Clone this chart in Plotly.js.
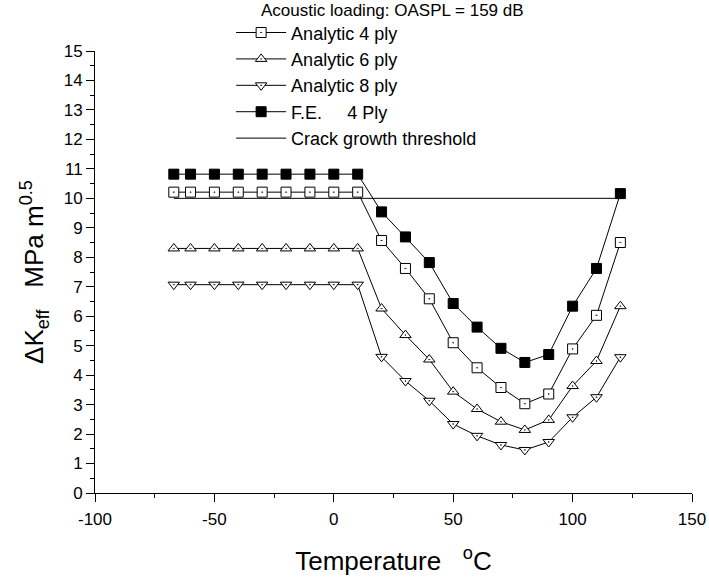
<!DOCTYPE html>
<html>
<head>
<meta charset="utf-8">
<script src="https://cdn.plot.ly/plotly-3.0.1.min.js"></script>
<style>html,body{margin:0;padding:0;background:#fff}#chart{width:709px;height:579px}</style>
</head>
<body>
<div id="chart"></div>
<script>
// Temperature (°C)
var temps = [-67, -60, -50, -40, -30, -20, -10, 0, 10, 20, 30, 40, 50, 60, 70, 80, 90, 100, 110, 120];
// ΔKeff (MPa m^0.5)
var analytic4 = [10.21, 10.21, 10.21, 10.21, 10.21, 10.21, 10.21, 10.21, 10.21, 8.57, 7.62, 6.59, 5.10, 4.25, 3.58, 3.03, 3.36, 4.89, 6.03, 8.50];
var analytic6 = [8.30, 8.30, 8.30, 8.30, 8.30, 8.30, 8.30, 8.30, 8.30, 6.26, 5.36, 4.53, 3.44, 2.85, 2.42, 2.14, 2.48, 3.63, 4.48, 6.34];
var analytic8 = [7.07, 7.07, 7.07, 7.07, 7.07, 7.07, 7.07, 7.07, 7.07, 4.62, 3.80, 3.13, 2.34, 1.94, 1.63, 1.46, 1.73, 2.57, 3.25, 4.61];
var fe4 = [10.82, 10.82, 10.82, 10.82, 10.82, 10.82, 10.82, 10.82, 10.82, 9.54, 8.69, 7.82, 6.43, 5.63, 4.91, 4.43, 4.70, 6.34, 7.62, 10.16];
var thresholdX = [-67, 120];
var thresholdY = [10, 10];

var xTickVals = [-100, -50, 0, 50, 100, 150];
var xTickText = ["-100", "-50", "0", "50", "100", "150"];

var seriesNames = ["Analytic 4 ply", "Analytic 6 ply", "Analytic 8 ply", "F.E.\u00a0\u00a0\u00a0\u00a0 4 Ply", "Crack growth threshold"];
var chartTitle = "Acoustic loading: OASPL = 159 dB";
var xTitle = "Temperature\u00a0\u00a0\u00a0<sup>o</sup>C";
var yTitle = "\u0394K<sub>eff</sub>\u00a0\u00a0 MPa m<sup>0.5</sup>";

var FONT = "Liberation Sans, Arial, sans-serif";

function markerTrace(y, name, symbol, fill) {
  return {
    x: temps, y: y, name: name, type: "scatter", mode: "lines+markers",
    line: {color: "#000", width: 1},
    marker: {symbol: symbol, size: 10, color: fill, line: {color: "#000", width: 1}}
  };
}

var data = [
  markerTrace(analytic4, seriesNames[0], "square-dot", "#fff"),
  markerTrace(analytic6, seriesNames[1], "triangle-up-dot", "#fff"),
  markerTrace(analytic8, seriesNames[2], "triangle-down-dot", "#fff"),
  markerTrace(fe4, seriesNames[3], "square", "#000"),
  {x: thresholdX, y: thresholdY, name: seriesNames[4], type: "scatter", mode: "lines",
   line: {color: "#000", width: 1}}
];

var layout = {
  width: 709, height: 579,
  paper_bgcolor: "#fff", plot_bgcolor: "#fff",
  font: {family: FONT, color: "#000", size: 16},
  margin: {l: 95, r: 17, t: 51, b: 86},
  showlegend: true,
  legend: {
    x: 0.228, y: 1.083, xanchor: "left", yanchor: "top",
    bgcolor: "rgba(0,0,0,0)", borderwidth: 0,
    font: {family: FONT, size: 18, color: "#000"},
    itemwidth: 50, tracegroupgap: 0
  },
  annotations: [{
    text: chartTitle, xref: "paper", yref: "paper",
    x: 0.498, y: 1.091, xanchor: "center", yanchor: "middle",
    showarrow: false, font: {family: FONT, size: 17, color: "#000"}
  }],
  xaxis: {
    range: [-100, 150], tickmode: "array", tickvals: xTickVals, ticktext: xTickText,
    showgrid: false, zeroline: false,
    showline: true, linecolor: "#000", linewidth: 1, mirror: false,
    ticks: "outside", ticklen: 8, tickwidth: 1, tickcolor: "#000", ticklabelstandoff: 3,
    minor: {tickmode: "linear", tick0: -100, dtick: 25, ticks: "outside", ticklen: 4, tickcolor: "#000", showgrid: false},
    tickfont: {family: FONT, size: 17, color: "#000"},
    title: {text: xTitle, font: {family: FONT, size: 26, color: "#000"}, standoff: 23}
  },
  yaxis: {
    range: [0, 15], tickmode: "linear", tick0: 0, dtick: 1,
    showgrid: false, zeroline: false,
    showline: true, linecolor: "#000", linewidth: 1, mirror: false,
    ticks: "outside", ticklen: 8, tickwidth: 1, tickcolor: "#000",
    minor: {dtick: 0.5, ticks: "outside", ticklen: 4, tickcolor: "#000", showgrid: false},
    tickfont: {family: FONT, size: 17, color: "#000"},
    title: {text: yTitle, font: {family: FONT, size: 26, color: "#000"}, standoff: 12}
  }
};

Plotly.newPlot("chart", data, layout, {displayModeBar: false, staticPlot: true});
</script>
</body>
</html>
